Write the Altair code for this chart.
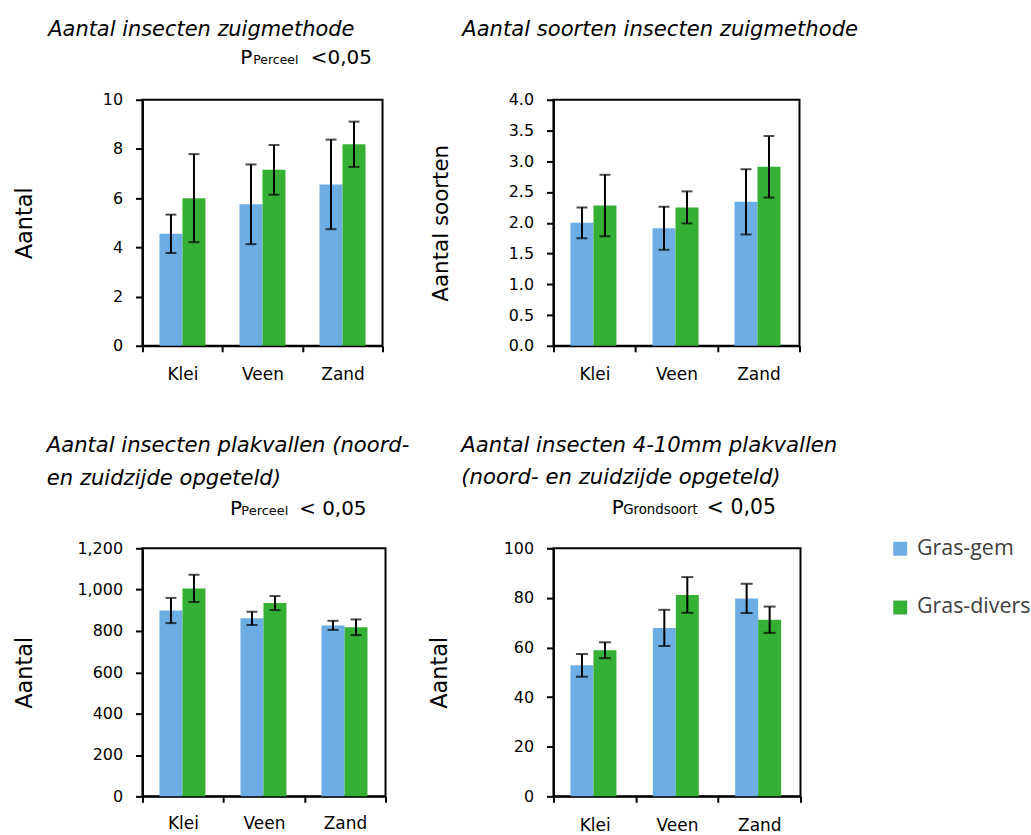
import altair as alt
import pandas as pd

# ---------------- data ----------------
grondsoorten = ["Klei", "Veen", "Zand"]
series = ["Gras-gem", "Gras-divers"]
colors = ["#6CADE3", "#35B035"]

# Aantal insecten zuigmethode
p1_gem = [4.55, 5.75, 6.56]
p1_gem_err = [0.78, 1.62, 1.82]
p1_div = [6.00, 7.15, 8.19]
p1_div_err = [1.79, 1.01, 0.92]
p1_ticks = [0, 2, 4, 6, 8, 10]

# Aantal soorten insecten zuigmethode
p2_gem = [2.00, 1.91, 2.34]
p2_gem_err = [0.25, 0.35, 0.53]
p2_div = [2.28, 2.25, 2.91]
p2_div_err = [0.50, 0.26, 0.50]
p2_ticks = [0, 0.5, 1.0, 1.5, 2.0, 2.5, 3.0, 3.5, 4.0]

# Aantal insecten plakvallen
p3_gem = [899, 861, 827]
p3_gem_err = [61, 32, 22]
p3_div = [1006, 935, 818]
p3_div_err = [66, 34, 38]
p3_ticks = [0, 200, 400, 600, 800, 1000, 1200]

# Aantal insecten 4-10mm plakvallen
p4_gem = [52.8, 67.9, 79.8]
p4_gem_err = [4.6, 7.3, 5.9]
p4_div = [58.9, 81.2, 71.2]
p4_div_err = [3.2, 7.2, 5.3]
p4_ticks = [0, 20, 40, 60, 80, 100]


def make_df(gem, gem_err, div, div_err):
    rows = []
    for i, g in enumerate(grondsoorten):
        rows.append(dict(grond=g, serie=series[0], waarde=gem[i], fout=gem_err[i]))
        rows.append(dict(grond=g, serie=series[1], waarde=div[i], fout=div_err[i]))
    return pd.DataFrame(rows)


FONT = "DejaVu Sans"

legend = alt.Legend(
    title=None,
    orient="none",
    legendX=750,
    legendY=440,
    symbolType="square",
    symbolSize=196,
    symbolStrokeWidth=0,
    labelFont="Open Sans",
    labelFontSize=21.5,
    labelColor="#404040",
    labelOffset=6,
    rowPadding=36,
)


def txt(s, x, y, size=20, italic=False):
    return alt.Chart(alt.Data(values=[{}])).mark_text(
        text=s, align="left", baseline="alphabetic", font=FONT,
        fontSize=size, fontStyle="italic" if italic else "normal", color="black",
    ).encode(x=alt.value(x), y=alt.value(y))


def panel(df, w, h, ticks, yfmt, ytitle, ytitle_size, title_pad, xlab_pad, off_pad, cap, texts):
    xenc = alt.X(
        "grond:N", sort=grondsoorten, title=None,
        scale=alt.Scale(paddingInner=0, paddingOuter=0),
        axis=alt.Axis(labelAngle=0, tickBand="extent", tickSize=6,
                      labelPadding=xlab_pad, labelFontSize=17),
    )
    xo = alt.XOffset("serie:N", sort=series,
                     scale=alt.Scale(paddingInner=0, paddingOuter=off_pad))
    yscale = alt.Scale(domain=[ticks[0], ticks[-1]], nice=False)
    yaxis = alt.Axis(values=ticks, format=yfmt, tickSize=7, labelPadding=13,
                     titleFontSize=ytitle_size, titlePadding=title_pad)

    def Y(field):
        return alt.Y(field, title=ytitle, scale=yscale, axis=yaxis)

    base = alt.Chart(df).transform_calculate(
        lo="datum.waarde - datum.fout", hi="datum.waarde + datum.fout"
    )
    bars = base.mark_bar().encode(
        x=xenc, xOffset=xo, y=Y("waarde:Q"),
        color=alt.Color("serie:N", sort=series,
                        scale=alt.Scale(domain=series, range=colors), legend=legend),
    )
    rule = base.mark_rule(color="black", strokeWidth=2).encode(
        x=xenc, xOffset=xo, y=Y("lo:Q"), y2="hi:Q")
    cap_lo = base.mark_tick(color="black", thickness=2, size=cap).encode(
        x=xenc, xOffset=xo, y=Y("lo:Q"))
    cap_hi = base.mark_tick(color="black", thickness=2, size=cap).encode(
        x=xenc, xOffset=xo, y=Y("hi:Q"))
    return alt.layer(bars, rule, cap_lo, cap_hi, *texts).properties(width=w, height=h)


p1 = panel(
    make_df(p1_gem, p1_gem_err, p1_div, p1_div_err), 241, 247, p1_ticks, "d",
    "Aantal", 22.5, 66, 14.5, 0.74, 11,
    [
        txt("Aantal insecten zuigmethode", -94.5, -64.4, 21, True),
        txt("P", 98.3, -35.4, 20),
        txt("Perceel", 111.3, -35.4, 12.5),
        txt("<0,05", 169, -35.4, 20),
    ],
)
p2 = panel(
    make_df(p2_gem, p2_gem_err, p2_div, p2_div_err), 247, 247, p2_ticks, ".1f",
    "Aantal soorten", 21.5, 56, 14.5, 0.72, 11,
    [
        txt("Aantal soorten insecten zuigmethode", -91.6, -64.4, 21.2, True),
    ],
)
p3 = panel(
    make_df(p3_gem, p3_gem_err, p3_div, p3_div_err), 244, 249, p3_ticks, ",d",
    "Aantal", 22.5, 40.5, 13.5, 0.77, 11,
    [
        txt("Aantal insecten plakvallen (noord-", -96, -96.3, 21.2, True),
        txt("en zuidzijde opgeteld)", -96, -64, 21.2, True),
        txt("P", 88, -33, 20),
        txt("Perceel", 99.3, -33, 13),
        txt("< 0,05", 157.3, -33, 20),
    ],
)
p4 = panel(
    make_df(p4_gem, p4_gem_err, p4_div, p4_div_err), 248, 249, p4_ticks, "d",
    "Aantal", 22.5, 52, 15, 0.79, 12,
    [
        txt("Aantal insecten 4-10mm plakvallen", -92.6, -97, 21.3, True),
        txt("(noord- en zuidzijde opgeteld)", -92.6, -64.7, 21.3, True),
        txt("P", 58.4, -34.4, 20),
        txt("Grondsoort", 70, -34.4, 13.4),
        txt("< 0,05", 154, -34.4, 20.5),
    ],
)

chart = alt.concat(
    p1, p2, p3, p4, columns=2,
    spacing={"row": 203.3, "column": 168.6},
    bounds="flush",
).properties(
    padding={"left": 12, "top": 15.5, "right": 0, "bottom": 0},
    background="white",
).configure_view(
    stroke="black", strokeWidth=2
).configure_axis(
    domainColor="black", domainWidth=2, tickColor="black", tickWidth=2,
    labelColor="black", labelFont=FONT, labelFontSize=16,
    titleFont=FONT, titleFontWeight="normal", titleColor="black",
    grid=False,
)

chart.save("out.html", embed_options={"renderer": "svg", "actions": False})
